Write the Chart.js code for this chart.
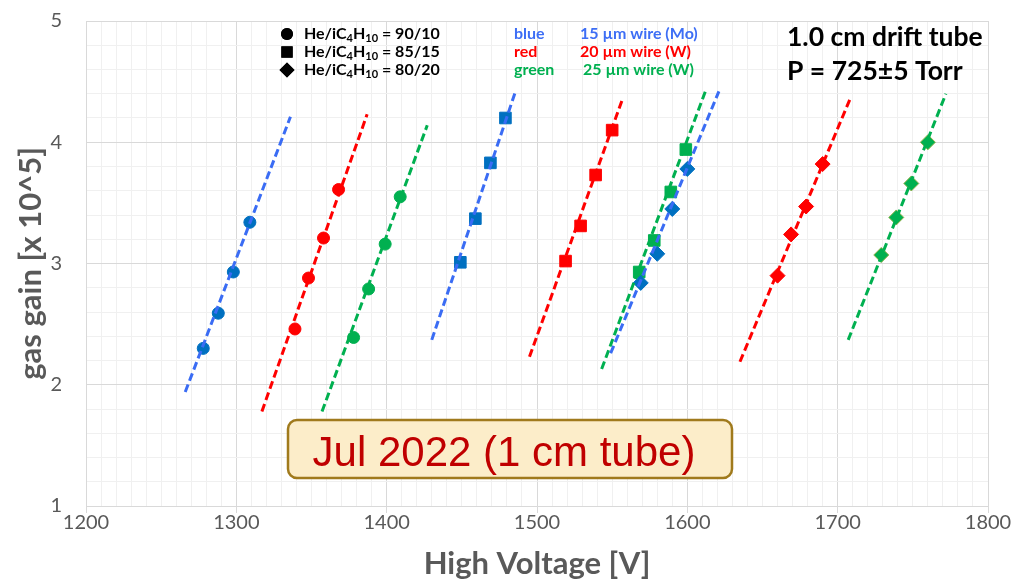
<!DOCTYPE html>
<html>
<head>
<meta charset="utf-8">
<script src="https://cdn.jsdelivr.net/npm/chart.js@4/dist/chart.umd.min.js"></script>
<style>
  html, body { margin: 0; padding: 0; background: #ffffff; }
  #wrap { width: 1017px; height: 584px; position: relative; }
</style>
</head>
<body>
<div id="wrap"><canvas id="gain" width="1017" height="584"></canvas></div>
<script>
// Axis ranges and tick spacing
const xRange = [1200, 1800];
const yRange = [1, 5];
const xMajorStep = 100, xMinorStep = 10;
const yMajorStep = 1, yMinorStep = 0.2;

// Gas mixtures (marker shape) and wires (colour)
const mixtureLabels = ['90/10', '85/15', '80/20'];
const wireNames = ['blue', 'red', 'green'];
const wireLabels = ['15 \u00b5m wire (Mo)', '20 \u00b5m wire (W)', '25 \u00b5m wire (W)'];

// Measured gain [x 10^5] vs high voltage [V]
// 15 um Mo wire
const hvMo15_90 = [1278, 1288, 1298, 1309];
const gainMo15_90 = [2.30, 2.59, 2.93, 3.34];
const hvMo15_85 = [1449, 1459, 1469, 1479];
const gainMo15_85 = [3.01, 3.37, 3.83, 4.20];
const hvMo15_80 = [1569, 1580, 1590, 1600];
const gainMo15_80 = [2.84, 3.08, 3.45, 3.78];
// 20 um W wire
const hvW20_90 = [1339, 1348, 1358, 1368];
const gainW20_90 = [2.46, 2.88, 3.21, 3.61];
const hvW20_85 = [1519, 1529, 1539, 1550];
const gainW20_85 = [3.02, 3.31, 3.73, 4.10];
const hvW20_80 = [1660, 1669, 1679, 1690];
const gainW20_80 = [2.90, 3.24, 3.47, 3.82];
// 25 um W wire
const hvW25_90 = [1378, 1388, 1399, 1409];
const gainW25_90 = [2.39, 2.79, 3.16, 3.55];
const hvW25_85 = [1568, 1578, 1589, 1599];
const gainW25_85 = [2.93, 3.19, 3.59, 3.94];
const hvW25_80 = [1729, 1739, 1749, 1760];
const gainW25_80 = [3.07, 3.38, 3.66, 4.00];

// Linear trend lines: end points (HV, gain)
const fitHvMo15_90 = [1266, 1336], fitGainMo15_90 = [1.94, 4.21];
const fitHvMo15_85 = [1430, 1486], fitGainMo15_85 = [2.37, 4.43];
const fitHvMo15_80 = [1549, 1621], fitGainMo15_80 = [2.26, 4.42];
const fitHvW20_90 = [1317, 1387], fitGainW20_90 = [1.78, 4.23];
const fitHvW20_85 = [1495, 1557], fitGainW20_85 = [2.23, 4.36];
const fitHvW20_80 = [1635, 1708], fitGainW20_80 = [2.19, 4.35];
const fitHvW25_90 = [1357, 1427], fitGainW25_90 = [1.78, 4.14];
const fitHvW25_85 = [1543, 1612], fitGainW25_85 = [2.13, 4.42];
const fitHvW25_80 = [1707, 1772], fitGainW25_80 = [2.37, 4.40];

// Styles
const markerColor = { blue: '#0070c0', red: '#ff0000', green: '#00b050' };
const lineColor = { blue: '#3a6cf4', red: '#ff0000', green: '#00b050' };
const textColor = { blue: '#3d6ef5', red: '#ff0000', green: '#00b050' };
const shapeOf = { '90/10': 'circle', '85/15': 'rect', '80/20': 'rectRot' };
const radiusOf = { circle: 6, rect: 8.2, rectRot: 7.5 };

const pts = (xs, ys) => xs.map((x, i) => ({ x: x, y: ys[i] }));

const series = [
  ['blue', '90/10', hvMo15_90, gainMo15_90, fitHvMo15_90, fitGainMo15_90],
  ['blue', '85/15', hvMo15_85, gainMo15_85, fitHvMo15_85, fitGainMo15_85],
  ['blue', '80/20', hvMo15_80, gainMo15_80, fitHvMo15_80, fitGainMo15_80],
  ['red', '90/10', hvW20_90, gainW20_90, fitHvW20_90, fitGainW20_90],
  ['red', '85/15', hvW20_85, gainW20_85, fitHvW20_85, fitGainW20_85],
  ['red', '80/20', hvW20_80, gainW20_80, fitHvW20_80, fitGainW20_80],
  ['green', '90/10', hvW25_90, gainW25_90, fitHvW25_90, fitGainW25_90],
  ['green', '85/15', hvW25_85, gainW25_85, fitHvW25_85, fitGainW25_85],
  ['green', '80/20', hvW25_80, gainW25_80, fitHvW25_80, fitGainW25_80]
];

const datasets = [];
series.forEach(([wire, mix, hv, gain, fhv, fgain]) => {
  const shape = shapeOf[mix];
  datasets.push({
    label: wire + ' ' + mix,
    data: pts(hv, gain),
    showLine: false,
    pointStyle: shape,
    pointRadius: radiusOf[shape],
    pointBackgroundColor: markerColor[wire],
    pointBorderColor: wire === 'green' && shape === 'rectRot' ? '#8fb04a' : markerColor[wire],
    pointBorderWidth: 1,
    order: 1
  });
  datasets.push({
    label: wire + ' ' + mix + ' fit',
    data: pts(fhv, fgain),
    showLine: true,
    pointRadius: 0,
    borderColor: lineColor[wire],
    borderWidth: 3,
    borderDash: [8, 4],
    fill: false,
    order: 0
  });
});

const isMajorX = v => Math.abs(v / xMajorStep - Math.round(v / xMajorStep)) < 1e-6;
const isMajorY = v => Math.abs(v / yMajorStep - Math.round(v / yMajorStep)) < 1e-6;

const FONT = 'Lato, "Open Sans", sans-serif';
const AXIS_GREY = '#595959';

// Legends, header text and the date box
const annotations = {
  id: 'annotations',
  afterDraw(chart) {
    const c = chart.ctx;
    c.save();
    c.textBaseline = 'middle';
    c.textAlign = 'left';

    // gas mixture legend (shape)
    const rows = [34, 52, 70];
    mixtureLabels.forEach((mix, i) => {
      const y = rows[i];
      Chart.helpers.drawPoint(c, { pointStyle: shapeOf[mix], radius: [6, 8, 7.5][i], borderWidth: 0 }, 287, y);
      c.fillStyle = '#000';
      c.fill();
      let x = 304;
      const parts = [['He/iC', false], ['4', true], ['H', false], ['10', true], [' = ' + mix, false]];
      parts.forEach(([t, sub]) => {
        c.font = sub ? 'bold 11px ' + FONT : 'bold 16px ' + FONT;
        c.fillText(t, x, sub ? y + 4 : y);
        x += c.measureText(t).width;
      });
    });

    // wire legend (colour)
    wireNames.forEach((w, i) => {
      const y = rows[i];
      c.font = 'bold 16px ' + FONT;
      c.fillStyle = textColor[w];
      c.fillText(w, 514, y);
      c.fillText(wireLabels[i], i === 2 ? 583 : 580, y);
    });

    // header
    c.fillStyle = '#000';
    c.font = 'bold 26.5px ' + FONT;
    c.fillText('1.0 cm drift tube', 787, 37);
    c.fillText('P = 725\u00b15 Torr', 787, 71);

    // date box
    const bx = 288, by = 420, bw = 444, bh = 58, r = 9;
    c.beginPath();
    c.moveTo(bx + r, by);
    c.arcTo(bx + bw, by, bx + bw, by + bh, r);
    c.arcTo(bx + bw, by + bh, bx, by + bh, r);
    c.arcTo(bx, by + bh, bx, by, r);
    c.arcTo(bx, by, bx + bw, by, r);
    c.closePath();
    c.fillStyle = '#fcedc9';
    c.fill();
    c.lineWidth = 2.5;
    c.strokeStyle = '#a07a1c';
    c.stroke();
    c.fillStyle = '#c00000';
    c.font = '42px "Liberation Sans", Arial, sans-serif';
    c.textAlign = 'center';
    c.textBaseline = 'alphabetic';
    c.fillText('Jul 2022 (1 cm tube)', 504, 466);
    c.restore();
  }
};

new Chart(document.getElementById('gain'), {
  type: 'scatter',
  data: { datasets: datasets },
  options: {
    responsive: false,
    animation: false,
    layout: { padding: { left: 0, right: 29, top: 21, bottom: 0 } },
    plugins: { legend: { display: false }, tooltip: { enabled: false } },
    scales: {
      x: {
        type: 'linear',
        min: xRange[0], max: xRange[1],
        afterFit(scale) { scale.height = 78; },
        ticks: {
          stepSize: xMinorStep, maxTicksLimit: 100, autoSkip: false, maxRotation: 0,
          padding: -2,
          color: AXIS_GREY, font: { family: FONT, size: 20 },
          callback: v => isMajorX(v) ? String(Math.round(v)) : ''
        },
        grid: {
          color: c => (c.tick && isMajorX(c.tick.value)) ? '#d9d9d9' : '#f0f0f0',
          tickColor: c => (c.tick && isMajorX(c.tick.value)) ? '#d9d9d9' : 'rgba(0,0,0,0)',
          tickLength: 7, lineWidth: 1
        },
        border: { color: '#d9d9d9' },
        title: {
          display: true, text: 'High Voltage [V]', color: AXIS_GREY,
          font: { family: FONT, size: 31, weight: 'bold' },
          padding: { top: 0, bottom: 1 }
        }
      },
      y: {
        type: 'linear',
        min: yRange[0], max: yRange[1],
        afterFit(scale) { scale.width = 86; },
        ticks: {
          stepSize: yMinorStep, maxTicksLimit: 100, autoSkip: false,
          padding: 2,
          color: AXIS_GREY, font: { family: FONT, size: 20 },
          callback: v => isMajorY(v) ? String(Math.round(v)) : ''
        },
        grid: {
          color: c => (c.tick && isMajorY(c.tick.value)) ? '#d9d9d9' : '#f0f0f0',
          tickColor: 'rgba(0,0,0,0)',
          drawTicks: true, tickLength: 22, lineWidth: 1
        },
        border: { color: '#d9d9d9' },
        title: {
          display: true, text: 'gas gain [x 10^5]', color: AXIS_GREY,
          font: { family: FONT, size: 31, weight: 'bold' },
          padding: { top: 12, bottom: 0 }
        }
      }
    }
  },
  plugins: [annotations]
});
</script>
</body>
</html>
